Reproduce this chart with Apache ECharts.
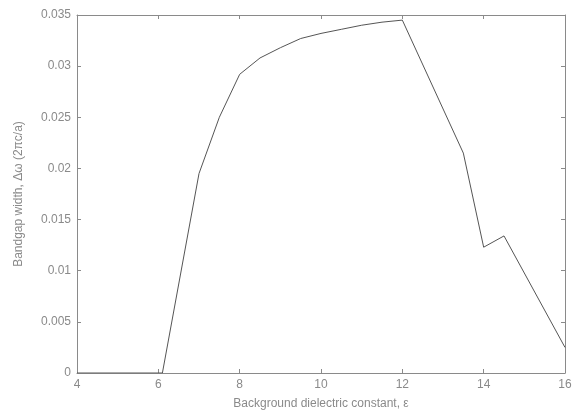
<!DOCTYPE html>
<html>
<head>
<meta charset="utf-8">
<script src="https://cdn.jsdelivr.net/npm/echarts@6/dist/echarts.min.js"></script>
<style>html,body{margin:0;padding:0;background:#fff}#c{width:575px;height:415px}</style>
</head>
<body>
<div id="c"></div>
<script>
var xValues = [4, 6.1, 7, 7.5, 8, 8.5, 9, 9.5, 10, 10.5, 11, 11.5, 12, 13.5, 14, 14.5, 16];
var yValues = [0, 0, 0.0195, 0.0250, 0.0292, 0.0308, 0.0318, 0.0327, 0.0332, 0.0336, 0.0340, 0.0343, 0.0345, 0.0215, 0.0123, 0.0134, 0.0025];
var xTicks = [4, 6, 8, 10, 12, 14, 16];
var yTicks = [0, 0.005, 0.01, 0.015, 0.02, 0.025, 0.03, 0.035];

var txt = '#8a8a8a';
var axisCol = '#8a8a8a';
var font = 'Liberation Sans';
var data = xValues.map(function (x, i) { return [x, yValues[i]]; });

var chart = echarts.init(document.getElementById('c'));
function baseAxis(extra) {
  var a = {
    axisLine: { show: true, onZero: false, lineStyle: { color: axisCol, width: 1 } },
    axisTick: { show: true, inside: true, length: 4, lineStyle: { color: axisCol } },
    splitLine: { show: false },
    axisLabel: { color: txt, fontFamily: font, fontSize: 12 }
  };
  for (var k in extra) a[k] = extra[k];
  return a;
}
chart.setOption({
  animation: false,
  backgroundColor: '#fff',
  grid: { left: 77, right: 10, top: 15, bottom: 39 },
  xAxis: [
    baseAxis({ type: 'value', position: 'bottom', min: xTicks[0], max: xTicks[xTicks.length - 1], interval: 2,
      name: 'Background dielectric constant, ε', nameLocation: 'middle', nameGap: 25,
      nameTextStyle: { color: txt, fontFamily: font, fontSize: 12 },
      axisLabel: { color: txt, fontFamily: font, fontSize: 12, margin: 6 } }),
    baseAxis({ type: 'value', position: 'top', min: xTicks[0], max: xTicks[xTicks.length - 1], interval: 2,
      axisLabel: { show: false } })
  ],
  yAxis: [
    baseAxis({ type: 'value', position: 'left', min: yTicks[0], max: yTicks[yTicks.length - 1], interval: 0.005,
      name: 'Bandgap width, Δω (2πc/a)', nameLocation: 'middle', nameGap: 52,
      nameTextStyle: { color: txt, fontFamily: font, fontSize: 12 },
      axisLabel: { color: txt, fontFamily: font, fontSize: 12, margin: 6 } }),
    baseAxis({ type: 'value', position: 'right', min: yTicks[0], max: yTicks[yTicks.length - 1], interval: 0.005,
      axisLabel: { show: false } })
  ],
  series: [{
    type: 'line',
    data: data,
    xAxisIndex: 0,
    yAxisIndex: 0,
    showSymbol: false,
    lineStyle: { color: '#555', width: 1 }
  }]
});
</script>
</body>
</html>
